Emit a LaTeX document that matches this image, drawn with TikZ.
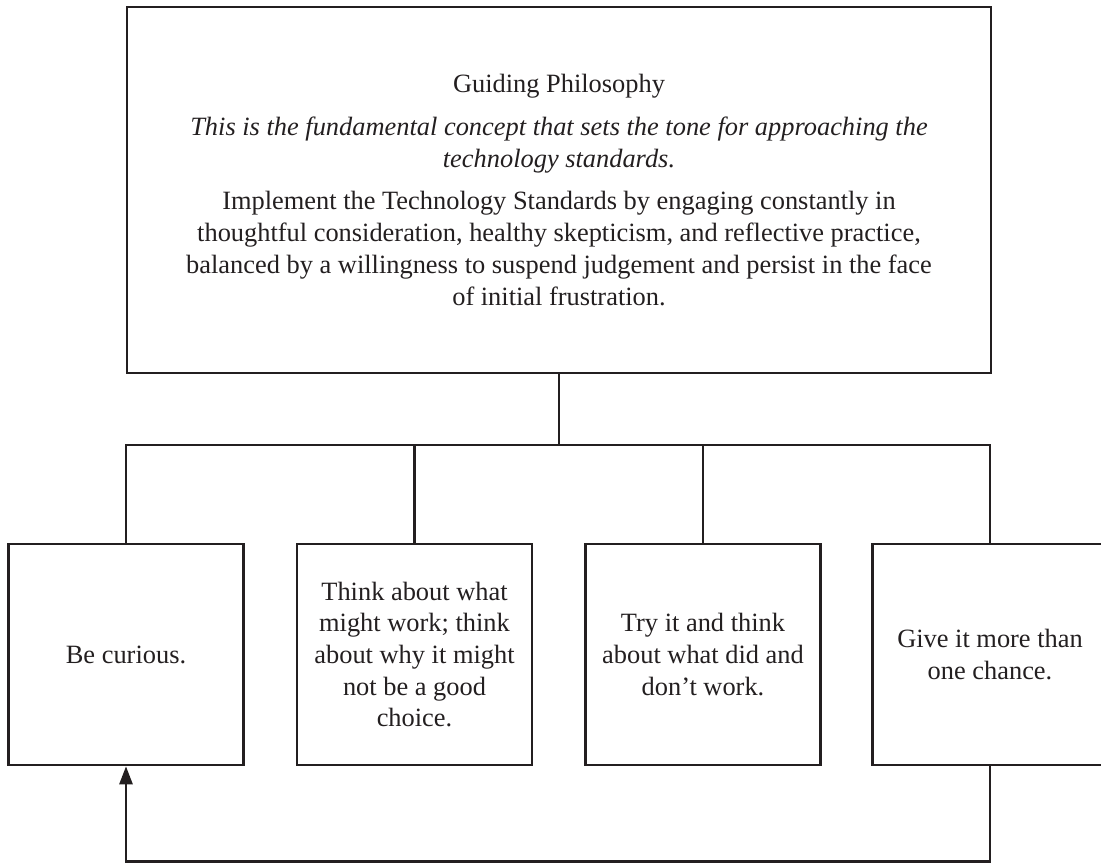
\documentclass[tikz,border=0pt]{standalone}
\usepackage{fontspec}
\setmainfont{Liberation Serif}
\usetikzlibrary{arrows.meta}
\definecolor{ink}{RGB}{35,31,32}
\begin{document}
\begin{tikzpicture}[x=1pt,y=-1pt,
  every node/.style={font=\fontsize{26.4}{31.7}\selectfont, text=ink},
  box/.style={draw=ink, line width=2.6pt, align=center, inner sep=0pt, minimum width=235pt, minimum height=221pt},
  conn/.style={draw=ink, line width=2.6pt},
  arr/.style={conn, -{Triangle[length=18pt,width=13pt]}}]
\useasboundingbox (0,0) rectangle (1101,863);
\node[box, minimum width=864pt, minimum height=366pt] (top) at (559,190)
  {Guiding Philosophy\\[11pt]
   \itshape This is the fundamental concept that sets the tone for approaching the\\
   \itshape technology standards.\\[11pt]
   Implement the Technology Standards by engaging constantly in\\
   thoughtful consideration, healthy skepticism, and reflective practice,\\
   balanced by a willingness to suspend judgement and persist in the face\\
   of initial frustration.};
\node[box] (b1) at (126,654.5) {Be curious.};
\node[box] (b2) at (414.5,654.5) {Think about what\\might work; think\\about why it might\\not be a good\\choice.};
\node[box] (b3) at (703,654.5) {Try it and think\\about what did and\\don’t work.};
\node[box] (b4) at (990,654.5) {Give it more than\\one chance.};
\coordinate (bus) at (0,445);
\coordinate (loop) at (0,861.5);
\draw[conn] (top.south) -- (top.south |- bus);
\draw[conn] (b1.north) -- (b1.north |- bus) -- (b4.north |- bus) -- (b4.north);
\draw[conn] (b2.north) -- (b2.north |- bus);
\draw[conn] (b3.north) -- (b3.north |- bus);
\draw[arr] (b4.south) -- (b4.south |- loop) -- (b1.south |- loop) -- (b1.south);
\end{tikzpicture}
\end{document}
